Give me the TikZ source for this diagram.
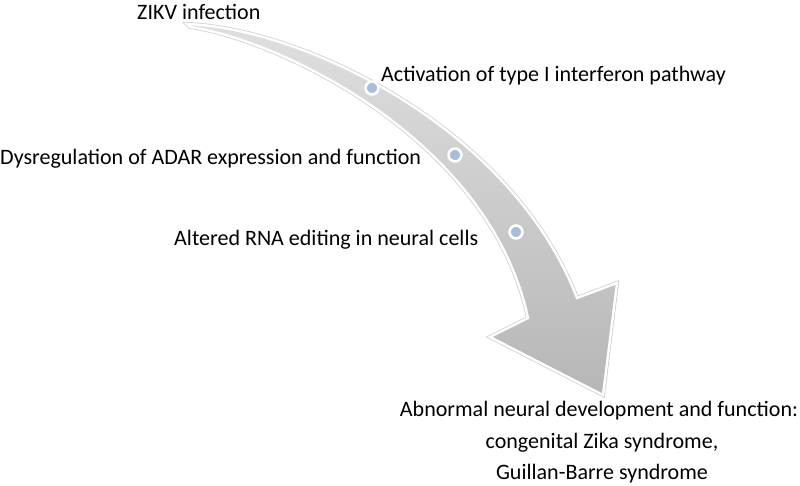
\documentclass[tikz,border=0pt]{standalone}
\usepackage{fontspec}
\setmainfont{Carlito}
\usetikzlibrary{shadows}

\definecolor{dotblue}{HTML}{A9BCD9}

\begin{document}
\begin{tikzpicture}[x=0.03cm, y=-0.03cm]
        \tikzstyle{step_text}      = [inner sep=0pt, font=\fontsize{18.8}{22}\selectfont]
        \tikzstyle{step_dot}       = [shape = circle, fill = dotblue, draw = white, line width=2.2pt,
                                      minimum size=11pt, inner sep=0pt,
                                      drop shadow={opacity=0.35, shadow xshift=0.6pt, shadow yshift=-0.6pt}]

        \useasboundingbox (0,0) rectangle (800,486);

        % curved arrow
        \path[draw = white, line width=2pt, top color=gray!25, middle color=gray!50, bottom color=gray!57,
              preaction={draw=black!18, line width=3.4pt}]
          (187,24) .. controls (300,28) and (510,125) .. (577,298)
          -- (617,283) -- (603,395) -- (490,337) -- (528,318)
          .. controls (490,140) and (280,40) .. (190,27)
          -- cycle;

        \node[step_dot] at (372, 88) (d1) {};
        \node[step_dot] at (455,155) (d2) {};
        \node[step_dot] at (516,232) (d3) {};

        \node[step_text, anchor=base west] at (137, 20) (zikv) {ZIKV infection};
        \node[step_text, anchor=base west] at (381, 82) (ifn) {Activation of type I interferon pathway};
        \node[step_text, anchor=base west] at (0,  165) (adar) {Dysregulation of ADAR expression and function};
        \node[step_text, anchor=base west] at (174,246) (rna) {Altered RNA editing in neural cells};

        \node[step_text, anchor=base] at (599,417) (out1) {Abnormal neural development and function:};
        \node[step_text, anchor=base] at (602,449) (out2) {congenital Zika syndrome,};
        \node[step_text, anchor=base] at (602,480) (out3) {Guillan-Barre syndrome};
      \end{tikzpicture}
\end{document}
